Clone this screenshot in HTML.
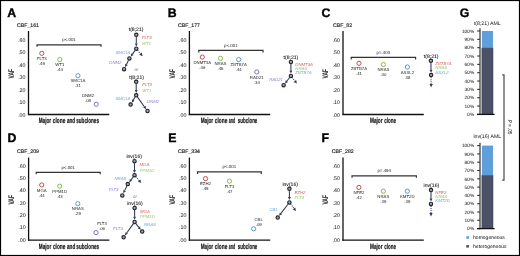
<!DOCTYPE html>
<html><head><meta charset="utf-8"><style>
html,body{margin:0;padding:0;background:#fff;}
svg{display:block;will-change:transform;filter:blur(0.3px);}
text{font-family:"Liberation Sans",sans-serif;text-rendering:geometricPrecision;}
</style></head><body>
<svg width="520" height="256" viewBox="0 0 520 256">
<rect x="0" y="0" width="520" height="256" fill="#fff"/>
<text x="7.3" y="16.8" font-size="12.3" fill="#000" font-weight="bold" stroke="#000" stroke-width="0.35">A</text>
<text x="17" y="27" font-size="5.2" fill="#222" stroke="#222" stroke-width="0.15">CBF_161</text>
<line x1="28.5" y1="31" x2="28.5" y2="115.1" stroke="#111" stroke-width="1.3"/>
<line x1="27.9" y1="114.5" x2="109.3" y2="114.5" stroke="#111" stroke-width="1.3"/>
<text x="25.5" y="116.6" font-size="5.3" fill="#222" stroke="#222" stroke-width="0.03" text-anchor="end">.00</text>
<text x="25.5" y="104.12" font-size="5.3" fill="#222" stroke="#222" stroke-width="0.03" text-anchor="end">.10</text>
<text x="25.5" y="91.63" font-size="5.3" fill="#222" stroke="#222" stroke-width="0.03" text-anchor="end">.20</text>
<text x="25.5" y="79.15" font-size="5.3" fill="#222" stroke="#222" stroke-width="0.03" text-anchor="end">.30</text>
<text x="25.5" y="66.67" font-size="5.3" fill="#222" stroke="#222" stroke-width="0.03" text-anchor="end">.40</text>
<text x="25.5" y="54.18" font-size="5.3" fill="#222" stroke="#222" stroke-width="0.03" text-anchor="end">.50</text>
<text x="25.5" y="41.7" font-size="5.3" fill="#222" stroke="#222" stroke-width="0.03" text-anchor="end">.60</text>
<text x="0" y="0" font-size="8.2" font-weight="bold" fill="#222" text-anchor="middle" textLength="9.6" lengthAdjust="spacingAndGlyphs" transform="translate(13.8,73.75) rotate(-90)">VAF</text>
<text x="38.65" y="123.1" font-size="7.5" fill="#1a1a1a" stroke="#1a1a1a" stroke-width="0.24" font-weight="bold" textLength="12.5" lengthAdjust="spacingAndGlyphs">Major</text>
<text x="52.85" y="123.1" font-size="7.5" fill="#1a1a1a" stroke="#1a1a1a" stroke-width="0.24" font-weight="bold" textLength="12.5" lengthAdjust="spacingAndGlyphs">clone</text>
<text x="66.95" y="123.1" font-size="7.5" fill="#1a1a1a" stroke="#1a1a1a" stroke-width="0.24" font-weight="bold" textLength="8.2" lengthAdjust="spacingAndGlyphs">and</text>
<text x="76.25" y="123.1" font-size="7.5" fill="#1a1a1a" stroke="#1a1a1a" stroke-width="0.24" font-weight="bold" textLength="22.7" lengthAdjust="spacingAndGlyphs">subclones</text>
<path d="M37,46.8 L37,44.8 L101,44.8 L101,46.8" stroke="#333" stroke-width="1.2" fill="none"/>
<text x="69.0" y="41.199999999999996" font-size="4.4" fill="#333" stroke="#333" stroke-width="0.03" text-anchor="middle">p&lt;.001</text>
<circle cx="41.8" cy="53.34" r="2.1" fill="none" stroke="#c0504d" stroke-width="1.0"/>
<text x="41.8" y="59.94" font-size="4.3" fill="#333" stroke="#333" stroke-width="0.03" text-anchor="middle">FLT3</text>
<text x="41.8" y="64.94" font-size="4.3" fill="#333" stroke="#333" stroke-width="0.03" text-anchor="middle">.49</text>
<circle cx="59.8" cy="59.55" r="2.1" fill="none" stroke="#86bd4a" stroke-width="1.0"/>
<text x="59.8" y="66.15" font-size="4.3" fill="#333" stroke="#333" stroke-width="0.03" text-anchor="middle">WT1</text>
<text x="59.8" y="71.15" font-size="4.3" fill="#333" stroke="#333" stroke-width="0.03" text-anchor="middle">.44</text>
<circle cx="77.9" cy="75.70" r="2.1" fill="none" stroke="#539ae0" stroke-width="1.0"/>
<text x="77.9" y="82.3" font-size="4.3" fill="#333" stroke="#333" stroke-width="0.03" text-anchor="middle">SMC1A</text>
<text x="77.9" y="87.3" font-size="4.3" fill="#333" stroke="#333" stroke-width="0.03" text-anchor="middle">.31</text>
<circle cx="96.2" cy="104.26" r="2.1" fill="none" stroke="#7a72c8" stroke-width="1.0"/>
<text x="88" y="97.1" font-size="4.3" fill="#333" stroke="#333" stroke-width="0.03" text-anchor="middle">DNM2</text>
<text x="88" y="102.2" font-size="4.3" fill="#333" stroke="#333" stroke-width="0.03" text-anchor="middle">.08</text>
<text x="167.8" y="16.8" font-size="12.3" fill="#000" font-weight="bold" stroke="#000" stroke-width="0.35">B</text>
<text x="178" y="27" font-size="5.2" fill="#222" stroke="#222" stroke-width="0.15">CBF_177</text>
<line x1="189.4" y1="31" x2="189.4" y2="115.1" stroke="#111" stroke-width="1.3"/>
<line x1="188.8" y1="114.5" x2="270.2" y2="114.5" stroke="#111" stroke-width="1.3"/>
<text x="186.4" y="116.6" font-size="5.3" fill="#222" stroke="#222" stroke-width="0.03" text-anchor="end">.00</text>
<text x="186.4" y="104.12" font-size="5.3" fill="#222" stroke="#222" stroke-width="0.03" text-anchor="end">.10</text>
<text x="186.4" y="91.63" font-size="5.3" fill="#222" stroke="#222" stroke-width="0.03" text-anchor="end">.20</text>
<text x="186.4" y="79.15" font-size="5.3" fill="#222" stroke="#222" stroke-width="0.03" text-anchor="end">.30</text>
<text x="186.4" y="66.67" font-size="5.3" fill="#222" stroke="#222" stroke-width="0.03" text-anchor="end">.40</text>
<text x="186.4" y="54.18" font-size="5.3" fill="#222" stroke="#222" stroke-width="0.03" text-anchor="end">.50</text>
<text x="186.4" y="41.7" font-size="5.3" fill="#222" stroke="#222" stroke-width="0.03" text-anchor="end">.60</text>
<text x="0" y="0" font-size="8.2" font-weight="bold" fill="#222" text-anchor="middle" textLength="9.6" lengthAdjust="spacingAndGlyphs" transform="translate(174.70000000000002,73.75) rotate(-90)">VAF</text>
<text x="200.65" y="123.1" font-size="7.5" fill="#1a1a1a" stroke="#1a1a1a" stroke-width="0.24" font-weight="bold" textLength="12.5" lengthAdjust="spacingAndGlyphs">Major</text>
<text x="214.85" y="123.1" font-size="7.5" fill="#1a1a1a" stroke="#1a1a1a" stroke-width="0.24" font-weight="bold" textLength="12.5" lengthAdjust="spacingAndGlyphs">clone</text>
<text x="228.75" y="123.1" font-size="7.5" fill="#1a1a1a" stroke="#1a1a1a" stroke-width="0.24" font-weight="bold" textLength="6.4" lengthAdjust="spacingAndGlyphs">and</text>
<text x="237.85" y="123.1" font-size="7.5" fill="#1a1a1a" stroke="#1a1a1a" stroke-width="0.24" font-weight="bold" textLength="19.5" lengthAdjust="spacingAndGlyphs">subclone</text>
<path d="M198.8,52.4 L198.8,50.4 L263,50.4 L263,52.4" stroke="#333" stroke-width="1.2" fill="none"/>
<text x="230.9" y="46.8" font-size="4.4" fill="#333" stroke="#333" stroke-width="0.03" text-anchor="middle">p&lt;.001</text>
<circle cx="202.3" cy="57.07" r="2.1" fill="none" stroke="#c0504d" stroke-width="1.0"/>
<text x="202.3" y="63.67" font-size="4.3" fill="#333" stroke="#333" stroke-width="0.03" text-anchor="middle">DNMT3A</text>
<text x="202.3" y="68.67" font-size="4.3" fill="#333" stroke="#333" stroke-width="0.03" text-anchor="middle">.46</text>
<circle cx="220.5" cy="58.31" r="2.1" fill="none" stroke="#86bd4a" stroke-width="1.0"/>
<text x="220.5" y="64.91" font-size="4.3" fill="#333" stroke="#333" stroke-width="0.03" text-anchor="middle">NRAS</text>
<text x="220.5" y="69.91" font-size="4.3" fill="#333" stroke="#333" stroke-width="0.03" text-anchor="middle">.45</text>
<circle cx="238.7" cy="59.55" r="2.1" fill="none" stroke="#539ae0" stroke-width="1.0"/>
<text x="238.7" y="66.15" font-size="4.3" fill="#333" stroke="#333" stroke-width="0.03" text-anchor="middle">ZBTB7A</text>
<text x="238.7" y="71.15" font-size="4.3" fill="#333" stroke="#333" stroke-width="0.03" text-anchor="middle">.44</text>
<circle cx="256.8" cy="71.97" r="2.1" fill="none" stroke="#7a72c8" stroke-width="1.0"/>
<text x="256.8" y="78.57" font-size="4.3" fill="#333" stroke="#333" stroke-width="0.03" text-anchor="middle">RAD21</text>
<text x="256.8" y="83.57" font-size="4.3" fill="#333" stroke="#333" stroke-width="0.03" text-anchor="middle">.34</text>
<text x="321.4" y="16.8" font-size="12.3" fill="#000" font-weight="bold" stroke="#000" stroke-width="0.35">C</text>
<text x="333" y="27" font-size="5.2" fill="#222" stroke="#222" stroke-width="0.15">CBF_82</text>
<line x1="343" y1="31" x2="343" y2="115.1" stroke="#111" stroke-width="1.3"/>
<line x1="342.4" y1="114.5" x2="423.8" y2="114.5" stroke="#111" stroke-width="1.3"/>
<text x="340" y="116.6" font-size="5.3" fill="#222" stroke="#222" stroke-width="0.03" text-anchor="end">.00</text>
<text x="340" y="104.12" font-size="5.3" fill="#222" stroke="#222" stroke-width="0.03" text-anchor="end">.10</text>
<text x="340" y="91.63" font-size="5.3" fill="#222" stroke="#222" stroke-width="0.03" text-anchor="end">.20</text>
<text x="340" y="79.15" font-size="5.3" fill="#222" stroke="#222" stroke-width="0.03" text-anchor="end">.30</text>
<text x="340" y="66.67" font-size="5.3" fill="#222" stroke="#222" stroke-width="0.03" text-anchor="end">.40</text>
<text x="340" y="54.18" font-size="5.3" fill="#222" stroke="#222" stroke-width="0.03" text-anchor="end">.50</text>
<text x="340" y="41.7" font-size="5.3" fill="#222" stroke="#222" stroke-width="0.03" text-anchor="end">.60</text>
<text x="0" y="0" font-size="8.2" font-weight="bold" fill="#222" text-anchor="middle" textLength="9.6" lengthAdjust="spacingAndGlyphs" transform="translate(328.3,73.75) rotate(-90)">VAF</text>
<text x="369.95" y="123.1" font-size="7.5" fill="#1a1a1a" stroke="#1a1a1a" stroke-width="0.24" font-weight="bold" textLength="12.6" lengthAdjust="spacingAndGlyphs">Major</text>
<text x="384.35" y="123.1" font-size="7.5" fill="#1a1a1a" stroke="#1a1a1a" stroke-width="0.24" font-weight="bold" textLength="11.7" lengthAdjust="spacingAndGlyphs">clone</text>
<path d="M351.2,59.4 L351.2,57.4 L415.6,57.4 L415.6,59.4" stroke="#333" stroke-width="1.2" fill="none"/>
<text x="383.4" y="53.8" font-size="4.4" fill="#333" stroke="#333" stroke-width="0.03" text-anchor="middle">p=.403</text>
<circle cx="359" cy="63.28" r="2.1" fill="none" stroke="#c0504d" stroke-width="1.0"/>
<text x="359" y="69.88" font-size="4.3" fill="#333" stroke="#333" stroke-width="0.03" text-anchor="middle">ZBTB7A</text>
<text x="359" y="74.88" font-size="4.3" fill="#333" stroke="#333" stroke-width="0.03" text-anchor="middle">.41</text>
<circle cx="383.4" cy="64.52" r="2.1" fill="none" stroke="#86bd4a" stroke-width="1.0"/>
<text x="383.4" y="71.12" font-size="4.3" fill="#333" stroke="#333" stroke-width="0.03" text-anchor="middle">NRAS</text>
<text x="383.4" y="76.12" font-size="4.3" fill="#333" stroke="#333" stroke-width="0.03" text-anchor="middle">.40</text>
<circle cx="407.4" cy="67.00" r="2.1" fill="none" stroke="#539ae0" stroke-width="1.0"/>
<text x="407.4" y="73.6" font-size="4.3" fill="#333" stroke="#333" stroke-width="0.03" text-anchor="middle">ASXL2</text>
<text x="407.4" y="78.6" font-size="4.3" fill="#333" stroke="#333" stroke-width="0.03" text-anchor="middle">.38</text>
<text x="7.5" y="142.2" font-size="12.3" fill="#000" font-weight="bold" stroke="#000" stroke-width="0.35">D</text>
<text x="17" y="153" font-size="5.2" fill="#222" stroke="#222" stroke-width="0.15">CBF_209</text>
<line x1="28.6" y1="157.5" x2="28.6" y2="240.7" stroke="#111" stroke-width="1.3"/>
<line x1="28.0" y1="240.1" x2="109.4" y2="240.1" stroke="#111" stroke-width="1.3"/>
<text x="25.6" y="241.8" font-size="5.3" fill="#222" stroke="#222" stroke-width="0.03" text-anchor="end">.00</text>
<text x="25.6" y="229.47" font-size="5.3" fill="#222" stroke="#222" stroke-width="0.03" text-anchor="end">.10</text>
<text x="25.6" y="217.13" font-size="5.3" fill="#222" stroke="#222" stroke-width="0.03" text-anchor="end">.20</text>
<text x="25.6" y="204.8" font-size="5.3" fill="#222" stroke="#222" stroke-width="0.03" text-anchor="end">.30</text>
<text x="25.6" y="192.47" font-size="5.3" fill="#222" stroke="#222" stroke-width="0.03" text-anchor="end">.40</text>
<text x="25.6" y="180.13" font-size="5.3" fill="#222" stroke="#222" stroke-width="0.03" text-anchor="end">.50</text>
<text x="25.6" y="167.8" font-size="5.3" fill="#222" stroke="#222" stroke-width="0.03" text-anchor="end">.60</text>
<text x="0" y="0" font-size="8.2" font-weight="bold" fill="#222" text-anchor="middle" textLength="9.6" lengthAdjust="spacingAndGlyphs" transform="translate(13.900000000000002,199.8) rotate(-90)">VAF</text>
<text x="38.75" y="248.7" font-size="7.5" fill="#1a1a1a" stroke="#1a1a1a" stroke-width="0.24" font-weight="bold" textLength="12.5" lengthAdjust="spacingAndGlyphs">Major</text>
<text x="52.95" y="248.7" font-size="7.5" fill="#1a1a1a" stroke="#1a1a1a" stroke-width="0.24" font-weight="bold" textLength="12.5" lengthAdjust="spacingAndGlyphs">clone</text>
<text x="67.05" y="248.7" font-size="7.5" fill="#1a1a1a" stroke="#1a1a1a" stroke-width="0.24" font-weight="bold" textLength="8.2" lengthAdjust="spacingAndGlyphs">and</text>
<text x="76.35" y="248.7" font-size="7.5" fill="#1a1a1a" stroke="#1a1a1a" stroke-width="0.24" font-weight="bold" textLength="22.7" lengthAdjust="spacingAndGlyphs">subclones</text>
<path d="M36.2,174.3 L36.2,172.3 L100.2,172.3 L100.2,174.3" stroke="#333" stroke-width="1.2" fill="none"/>
<text x="68.2" y="168.70000000000002" font-size="4.4" fill="#333" stroke="#333" stroke-width="0.03" text-anchor="middle">p&lt;.001</text>
<circle cx="41.7" cy="184.92" r="2.1" fill="none" stroke="#c0504d" stroke-width="1.0"/>
<text x="41.7" y="191.52" font-size="4.3" fill="#333" stroke="#333" stroke-width="0.03" text-anchor="middle">MGA</text>
<text x="41.7" y="196.52" font-size="4.3" fill="#333" stroke="#333" stroke-width="0.03" text-anchor="middle">.44</text>
<circle cx="59.7" cy="186.18" r="2.1" fill="none" stroke="#86bd4a" stroke-width="1.0"/>
<text x="59.7" y="192.78" font-size="4.3" fill="#333" stroke="#333" stroke-width="0.03" text-anchor="middle">PPM1D</text>
<text x="59.7" y="197.78" font-size="4.3" fill="#333" stroke="#333" stroke-width="0.03" text-anchor="middle">.43</text>
<circle cx="77.8" cy="203.73" r="2.1" fill="none" stroke="#539ae0" stroke-width="1.0"/>
<text x="77.8" y="210.33" font-size="4.3" fill="#333" stroke="#333" stroke-width="0.03" text-anchor="middle">NRAS</text>
<text x="77.8" y="215.33" font-size="4.3" fill="#333" stroke="#333" stroke-width="0.03" text-anchor="middle">.29</text>
<circle cx="96.0" cy="232.58" r="2.1" fill="none" stroke="#7a72c8" stroke-width="1.0"/>
<text x="102" y="225" font-size="4.3" fill="#333" stroke="#333" stroke-width="0.03" text-anchor="middle">FLT3</text>
<text x="102" y="230.2" font-size="4.3" fill="#333" stroke="#333" stroke-width="0.03" text-anchor="middle">.06</text>
<text x="168.2" y="142.2" font-size="12.3" fill="#000" font-weight="bold" stroke="#000" stroke-width="0.35">E</text>
<text x="178" y="153" font-size="5.2" fill="#222" stroke="#222" stroke-width="0.15">CBF_334</text>
<line x1="189.4" y1="157.5" x2="189.4" y2="240.7" stroke="#111" stroke-width="1.3"/>
<line x1="188.8" y1="240.1" x2="270.2" y2="240.1" stroke="#111" stroke-width="1.3"/>
<text x="186.4" y="241.8" font-size="5.3" fill="#222" stroke="#222" stroke-width="0.03" text-anchor="end">.00</text>
<text x="186.4" y="229.47" font-size="5.3" fill="#222" stroke="#222" stroke-width="0.03" text-anchor="end">.10</text>
<text x="186.4" y="217.13" font-size="5.3" fill="#222" stroke="#222" stroke-width="0.03" text-anchor="end">.20</text>
<text x="186.4" y="204.8" font-size="5.3" fill="#222" stroke="#222" stroke-width="0.03" text-anchor="end">.30</text>
<text x="186.4" y="192.47" font-size="5.3" fill="#222" stroke="#222" stroke-width="0.03" text-anchor="end">.40</text>
<text x="186.4" y="180.13" font-size="5.3" fill="#222" stroke="#222" stroke-width="0.03" text-anchor="end">.50</text>
<text x="186.4" y="167.8" font-size="5.3" fill="#222" stroke="#222" stroke-width="0.03" text-anchor="end">.60</text>
<text x="0" y="0" font-size="8.2" font-weight="bold" fill="#222" text-anchor="middle" textLength="9.6" lengthAdjust="spacingAndGlyphs" transform="translate(174.70000000000002,199.8) rotate(-90)">VAF</text>
<text x="200.65" y="248.7" font-size="7.5" fill="#1a1a1a" stroke="#1a1a1a" stroke-width="0.24" font-weight="bold" textLength="12.5" lengthAdjust="spacingAndGlyphs">Major</text>
<text x="214.85" y="248.7" font-size="7.5" fill="#1a1a1a" stroke="#1a1a1a" stroke-width="0.24" font-weight="bold" textLength="12.5" lengthAdjust="spacingAndGlyphs">clone</text>
<text x="228.75" y="248.7" font-size="7.5" fill="#1a1a1a" stroke="#1a1a1a" stroke-width="0.24" font-weight="bold" textLength="6.4" lengthAdjust="spacingAndGlyphs">and</text>
<text x="237.85" y="248.7" font-size="7.5" fill="#1a1a1a" stroke="#1a1a1a" stroke-width="0.24" font-weight="bold" textLength="19.5" lengthAdjust="spacingAndGlyphs">subclone</text>
<path d="M197.5,173.9 L197.5,171.9 L261.3,171.9 L261.3,173.9" stroke="#333" stroke-width="1.2" fill="none"/>
<text x="229.4" y="168.3" font-size="4.4" fill="#333" stroke="#333" stroke-width="0.03" text-anchor="middle">p&lt;.001</text>
<circle cx="205.5" cy="178.65" r="2.1" fill="none" stroke="#c0504d" stroke-width="1.0"/>
<text x="205.5" y="185.25" font-size="4.3" fill="#333" stroke="#333" stroke-width="0.03" text-anchor="middle">EZH2</text>
<text x="205.5" y="190.25" font-size="4.3" fill="#333" stroke="#333" stroke-width="0.03" text-anchor="middle">.49</text>
<circle cx="229.5" cy="181.16" r="2.1" fill="none" stroke="#86bd4a" stroke-width="1.0"/>
<text x="229.5" y="187.76" font-size="4.3" fill="#333" stroke="#333" stroke-width="0.03" text-anchor="middle">FLT3</text>
<text x="229.5" y="192.76" font-size="4.3" fill="#333" stroke="#333" stroke-width="0.03" text-anchor="middle">.47</text>
<circle cx="253.7" cy="228.81" r="2.1" fill="none" stroke="#539ae0" stroke-width="1.0"/>
<text x="258.7" y="221" font-size="4.3" fill="#333" stroke="#333" stroke-width="0.03" text-anchor="middle">CBL</text>
<text x="258.7" y="225.8" font-size="4.3" fill="#333" stroke="#333" stroke-width="0.03" text-anchor="middle">.09</text>
<text x="321.5" y="142.2" font-size="12.3" fill="#000" font-weight="bold" stroke="#000" stroke-width="0.35">F</text>
<text x="331.8" y="153" font-size="5.2" fill="#222" stroke="#222" stroke-width="0.15">CBF_282</text>
<line x1="343" y1="157.5" x2="343" y2="240.7" stroke="#111" stroke-width="1.3"/>
<line x1="342.4" y1="240.1" x2="423.8" y2="240.1" stroke="#111" stroke-width="1.3"/>
<text x="340" y="241.8" font-size="5.3" fill="#222" stroke="#222" stroke-width="0.03" text-anchor="end">.00</text>
<text x="340" y="229.47" font-size="5.3" fill="#222" stroke="#222" stroke-width="0.03" text-anchor="end">.10</text>
<text x="340" y="217.13" font-size="5.3" fill="#222" stroke="#222" stroke-width="0.03" text-anchor="end">.20</text>
<text x="340" y="204.8" font-size="5.3" fill="#222" stroke="#222" stroke-width="0.03" text-anchor="end">.30</text>
<text x="340" y="192.47" font-size="5.3" fill="#222" stroke="#222" stroke-width="0.03" text-anchor="end">.40</text>
<text x="340" y="180.13" font-size="5.3" fill="#222" stroke="#222" stroke-width="0.03" text-anchor="end">.50</text>
<text x="340" y="167.8" font-size="5.3" fill="#222" stroke="#222" stroke-width="0.03" text-anchor="end">.60</text>
<text x="0" y="0" font-size="8.2" font-weight="bold" fill="#222" text-anchor="middle" textLength="9.6" lengthAdjust="spacingAndGlyphs" transform="translate(328.3,199.8) rotate(-90)">VAF</text>
<text x="369.95" y="248.7" font-size="7.5" fill="#1a1a1a" stroke="#1a1a1a" stroke-width="0.24" font-weight="bold" textLength="12.6" lengthAdjust="spacingAndGlyphs">Major</text>
<text x="384.35" y="248.7" font-size="7.5" fill="#1a1a1a" stroke="#1a1a1a" stroke-width="0.24" font-weight="bold" textLength="11.7" lengthAdjust="spacingAndGlyphs">clone</text>
<path d="M352,177.8 L352,175.8 L416.4,175.8 L416.4,177.8" stroke="#333" stroke-width="1.2" fill="none"/>
<text x="384.2" y="172.20000000000002" font-size="4.4" fill="#333" stroke="#333" stroke-width="0.03" text-anchor="middle">p=.494</text>
<circle cx="358.9" cy="187.43" r="2.1" fill="none" stroke="#c0504d" stroke-width="1.0"/>
<text x="358.9" y="194.03" font-size="4.3" fill="#333" stroke="#333" stroke-width="0.03" text-anchor="middle">NFE2</text>
<text x="358.9" y="199.03" font-size="4.3" fill="#333" stroke="#333" stroke-width="0.03" text-anchor="middle">.42</text>
<circle cx="383.3" cy="191.19" r="2.1" fill="none" stroke="#86bd4a" stroke-width="1.0"/>
<text x="383.3" y="197.79" font-size="4.3" fill="#333" stroke="#333" stroke-width="0.03" text-anchor="middle">NRAS</text>
<text x="383.3" y="202.79" font-size="4.3" fill="#333" stroke="#333" stroke-width="0.03" text-anchor="middle">.39</text>
<circle cx="407.3" cy="191.19" r="2.1" fill="none" stroke="#539ae0" stroke-width="1.0"/>
<text x="407.3" y="197.79" font-size="4.3" fill="#333" stroke="#333" stroke-width="0.03" text-anchor="middle">KMT2D</text>
<text x="407.3" y="202.79" font-size="4.3" fill="#333" stroke="#333" stroke-width="0.03" text-anchor="middle">.39</text>
<text x="136.1" y="31.2" font-size="5.1" fill="#111" stroke="#111" stroke-width="0.07" text-anchor="middle">t(8;21)</text>
<circle cx="136.3" cy="34.8" r="1.7" fill="#a4a7b0" stroke="#202028" stroke-width="1.1"/>
<circle cx="136.3" cy="48.7" r="1.7" fill="#a4a7b0" stroke="#202028" stroke-width="1.1"/>
<circle cx="129.4" cy="58.4" r="1.7" fill="#a4a7b0" stroke="#202028" stroke-width="1.1"/>
<circle cx="124.1" cy="69.2" r="1.7" fill="#a4a7b0" stroke="#202028" stroke-width="1.1"/>
<line x1="136.30" y1="36.80" x2="136.30" y2="43.40" stroke="#2f3a58" stroke-width="1.05"/>
<path d="M136.30,46.40 L134.85,43.40 L137.75,43.40 Z" fill="#2f3a58"/>
<line x1="135.14" y1="50.33" x2="132.47" y2="54.08" stroke="#2f3a58" stroke-width="1.05"/>
<path d="M130.73,56.53 L131.29,53.24 L133.65,54.92 Z" fill="#2f3a58"/>
<line x1="128.52" y1="60.20" x2="126.43" y2="64.44" stroke="#2f3a58" stroke-width="1.05"/>
<path d="M125.11,67.14 L125.13,63.80 L127.74,65.08 Z" fill="#2f3a58"/>
<line x1="137.59" y1="50.23" x2="140.48" y2="53.67" stroke="#2f3a58" stroke-width="1.05" stroke-dasharray="1,1.05"/>
<path d="M142.60,56.20 L139.21,54.73 L141.74,52.61 Z" fill="#2f3a58"/>
<text x="141.9" y="39.3" font-size="4.3" fill="#d26460" font-style="italic">FLT3</text>
<text x="141.9" y="45.1" font-size="4.3" fill="#9bc766" font-style="italic">WT1</text>
<text x="130.3" y="53.7" font-size="4.3" fill="#66a5ea" text-anchor="end" font-style="italic">SMC1A</text>
<text x="121.5" y="64.1" font-size="4.3" fill="#8c84cf" text-anchor="end" font-style="italic">DNM2</text>
<text x="134.4" y="71.2" font-size="4.5" fill="#737b94" font-style="italic">or</text>
<text x="136.6" y="78.9" font-size="5.1" fill="#111" stroke="#111" stroke-width="0.07" text-anchor="middle">t(8;21)</text>
<circle cx="136.2" cy="81.8" r="1.7" fill="#a4a7b0" stroke="#202028" stroke-width="1.1"/>
<circle cx="136.2" cy="95.3" r="1.7" fill="#a4a7b0" stroke="#202028" stroke-width="1.1"/>
<circle cx="130.6" cy="104.6" r="1.7" fill="#a4a7b0" stroke="#202028" stroke-width="1.1"/>
<circle cx="147.5" cy="111" r="1.7" fill="#a4a7b0" stroke="#202028" stroke-width="1.1"/>
<line x1="136.20" y1="83.80" x2="136.20" y2="90.00" stroke="#2f3a58" stroke-width="1.05"/>
<path d="M136.20,93.00 L134.75,90.00 L137.65,90.00 Z" fill="#2f3a58"/>
<line x1="135.17" y1="97.01" x2="133.33" y2="100.06" stroke="#2f3a58" stroke-width="1.05"/>
<path d="M131.79,102.63 L132.09,99.31 L134.58,100.81 Z" fill="#2f3a58"/>
<line x1="137.37" y1="96.92" x2="144.40" y2="106.70" stroke="#2f3a58" stroke-width="1.05"/>
<path d="M146.16,109.13 L143.23,107.55 L145.58,105.85 Z" fill="#2f3a58"/>
<text x="142.3" y="85.9" font-size="4.3" fill="#d26460" font-style="italic">FLT3</text>
<text x="142.3" y="91.5" font-size="4.3" fill="#9bc766" font-style="italic">WT1</text>
<text x="130.3" y="100.2" font-size="4.3" fill="#66a5ea" text-anchor="end" font-style="italic">SMC1A</text>
<text x="147" y="103.2" font-size="4.3" fill="#8c84cf" font-style="italic">DNM2</text>
<text x="290.9" y="58.8" font-size="5.1" fill="#111" stroke="#111" stroke-width="0.07" text-anchor="middle">t(8;21)</text>
<circle cx="290.9" cy="62" r="1.7" fill="#a4a7b0" stroke="#202028" stroke-width="1.1"/>
<circle cx="290.9" cy="75.9" r="1.7" fill="#a4a7b0" stroke="#202028" stroke-width="1.1"/>
<circle cx="283.6" cy="85.2" r="1.7" fill="#a4a7b0" stroke="#202028" stroke-width="1.1"/>
<line x1="290.90" y1="64.00" x2="290.90" y2="70.60" stroke="#2f3a58" stroke-width="1.05"/>
<path d="M290.90,73.60 L289.45,70.60 L292.35,70.60 Z" fill="#2f3a58"/>
<line x1="289.67" y1="77.47" x2="286.87" y2="81.03" stroke="#2f3a58" stroke-width="1.05"/>
<path d="M285.02,83.39 L285.73,80.14 L288.01,81.93 Z" fill="#2f3a58"/>
<line x1="292.13" y1="77.48" x2="294.87" y2="81.00" stroke="#2f3a58" stroke-width="1.05" stroke-dasharray="1,1.05"/>
<path d="M296.90,83.60 L293.57,82.01 L296.17,79.98 Z" fill="#2f3a58"/>
<text x="295.3" y="66.1" font-size="4.3" fill="#d26460" font-style="italic">DNMT3A</text>
<text x="295.3" y="70.0" font-size="4.3" fill="#9bc766" font-style="italic">NRAS</text>
<text x="295.3" y="74.3" font-size="4.3" fill="#66a5ea" font-style="italic">ZBTB7A</text>
<text x="283" y="80.8" font-size="4.3" fill="#8c84cf" text-anchor="end" font-style="italic">RAD21</text>
<text x="431.2" y="57.6" font-size="5.1" fill="#111" stroke="#111" stroke-width="0.07" text-anchor="middle">t(8;21)</text>
<circle cx="430.9" cy="60.8" r="1.7" fill="#a4a7b0" stroke="#202028" stroke-width="1.1"/>
<circle cx="431.1" cy="75.1" r="1.7" fill="#a4a7b0" stroke="#202028" stroke-width="1.1"/>
<line x1="430.93" y1="62.80" x2="431.03" y2="69.80" stroke="#2f3a58" stroke-width="1.05"/>
<path d="M431.07,72.80 L429.58,69.82 L432.48,69.78 Z" fill="#2f3a58"/>
<line x1="431.10" y1="77.10" x2="431.10" y2="84.00" stroke="#2f3a58" stroke-width="1.05" stroke-dasharray="1,1.05"/>
<path d="M431.10,87.30 L429.45,84.00 L432.75,84.00 Z" fill="#2f3a58"/>
<text x="435.3" y="64.8" font-size="4.3" fill="#d26460" font-style="italic">ZBTB7A</text>
<text x="435.3" y="69.2" font-size="4.3" fill="#9bc766" font-style="italic">NRAS</text>
<text x="435.3" y="73.7" font-size="4.3" fill="#66a5ea" font-style="italic">ASXL2</text>
<text x="134.2" y="158.1" font-size="5.1" fill="#111" stroke="#111" stroke-width="0.07" text-anchor="middle">inv(16)</text>
<circle cx="134.5" cy="161.2" r="1.7" fill="#a4a7b0" stroke="#202028" stroke-width="1.1"/>
<circle cx="134.5" cy="175.2" r="1.7" fill="#a4a7b0" stroke="#202028" stroke-width="1.1"/>
<circle cx="127.8" cy="184.1" r="1.7" fill="#a4a7b0" stroke="#202028" stroke-width="1.1"/>
<circle cx="122.3" cy="195.4" r="1.7" fill="#a4a7b0" stroke="#202028" stroke-width="1.1"/>
<line x1="134.50" y1="163.20" x2="134.50" y2="169.90" stroke="#2f3a58" stroke-width="1.05"/>
<path d="M134.50,172.90 L133.05,169.90 L135.95,169.90 Z" fill="#2f3a58"/>
<line x1="133.30" y1="176.80" x2="130.99" y2="179.87" stroke="#2f3a58" stroke-width="1.05"/>
<path d="M129.18,182.26 L129.83,178.99 L132.15,180.74 Z" fill="#2f3a58"/>
<line x1="126.92" y1="185.90" x2="124.62" y2="190.63" stroke="#2f3a58" stroke-width="1.05"/>
<path d="M123.31,193.33 L123.32,190.00 L125.92,191.27 Z" fill="#2f3a58"/>
<line x1="135.81" y1="176.71" x2="139.13" y2="180.51" stroke="#2f3a58" stroke-width="1.05" stroke-dasharray="1,1.05"/>
<path d="M141.30,183.00 L137.89,181.60 L140.38,179.43 Z" fill="#2f3a58"/>
<text x="139.5" y="165.8" font-size="4.3" fill="#d26460" font-style="italic">MGA</text>
<text x="139.5" y="171.6" font-size="4.3" fill="#9bc766" font-style="italic">PPM1D</text>
<text x="126.4" y="179.9" font-size="4.3" fill="#66a5ea" text-anchor="end" font-style="italic">NRAS</text>
<text x="118.5" y="190.9" font-size="4.3" fill="#8c84cf" text-anchor="end" font-style="italic">FLT3</text>
<text x="132.9" y="197.8" font-size="4.5" fill="#737b94" font-style="italic">or</text>
<text x="135" y="205.3" font-size="5.1" fill="#111" stroke="#111" stroke-width="0.07" text-anchor="middle">inv(16)</text>
<circle cx="134.6" cy="208" r="1.7" fill="#a4a7b0" stroke="#202028" stroke-width="1.1"/>
<circle cx="134.6" cy="222" r="1.7" fill="#a4a7b0" stroke="#202028" stroke-width="1.1"/>
<circle cx="123.6" cy="237.3" r="1.7" fill="#a4a7b0" stroke="#202028" stroke-width="1.1"/>
<circle cx="142.2" cy="231.6" r="1.7" fill="#a4a7b0" stroke="#202028" stroke-width="1.1"/>
<line x1="134.60" y1="210.00" x2="134.60" y2="216.70" stroke="#2f3a58" stroke-width="1.05"/>
<path d="M134.60,219.70 L133.15,216.70 L136.05,216.70 Z" fill="#2f3a58"/>
<line x1="133.43" y1="223.62" x2="126.69" y2="233.00" stroke="#2f3a58" stroke-width="1.05"/>
<path d="M124.94,235.43 L125.52,232.15 L127.87,233.84 Z" fill="#2f3a58"/>
<line x1="135.84" y1="223.57" x2="138.91" y2="227.44" stroke="#2f3a58" stroke-width="1.05"/>
<path d="M140.77,229.80 L137.77,228.34 L140.05,226.54 Z" fill="#2f3a58"/>
<text x="140" y="212.7" font-size="4.3" fill="#d26460" font-style="italic">MGA</text>
<text x="140" y="218.1" font-size="4.3" fill="#9bc766" font-style="italic">PPM1D</text>
<text x="122.8" y="230.3" font-size="4.3" fill="#8c84cf" text-anchor="end" font-style="italic">FLT3</text>
<text x="144" y="226.3" font-size="4.3" fill="#66a5ea" font-style="italic">NRAS</text>
<text x="290.2" y="185.7" font-size="5.1" fill="#111" stroke="#111" stroke-width="0.07" text-anchor="middle">inv(16)</text>
<circle cx="289.4" cy="188.8" r="1.7" fill="#a4a7b0" stroke="#202028" stroke-width="1.1"/>
<circle cx="289.4" cy="202.4" r="1.7" fill="#a4a7b0" stroke="#202028" stroke-width="1.1"/>
<circle cx="277.7" cy="217.6" r="1.7" fill="#a4a7b0" stroke="#202028" stroke-width="1.1"/>
<line x1="289.40" y1="190.80" x2="289.40" y2="197.10" stroke="#2f3a58" stroke-width="1.05"/>
<path d="M289.40,200.10 L287.95,197.10 L290.85,197.10 Z" fill="#2f3a58"/>
<line x1="288.18" y1="203.98" x2="280.93" y2="213.40" stroke="#2f3a58" stroke-width="1.05"/>
<path d="M279.10,215.78 L279.78,212.52 L282.08,214.28 Z" fill="#2f3a58"/>
<line x1="290.62" y1="203.99" x2="293.99" y2="208.38" stroke="#2f3a58" stroke-width="1.05" stroke-dasharray="1,1.05"/>
<path d="M296.00,211.00 L292.68,209.39 L295.30,207.38 Z" fill="#2f3a58"/>
<text x="294.4" y="193.7" font-size="4.3" fill="#d26460" font-style="italic">EZH2</text>
<text x="294.4" y="198.9" font-size="4.3" fill="#9bc766" font-style="italic">FLT3</text>
<text x="277.8" y="211.2" font-size="4.3" fill="#66a5ea" text-anchor="end" font-style="italic">CBL</text>
<text x="431.4" y="186.9" font-size="5.1" fill="#111" stroke="#111" stroke-width="0.07" text-anchor="middle">inv(16)</text>
<circle cx="431.0" cy="190.1" r="1.7" fill="#a4a7b0" stroke="#202028" stroke-width="1.1"/>
<circle cx="431.0" cy="203.9" r="1.7" fill="#a4a7b0" stroke="#202028" stroke-width="1.1"/>
<line x1="431.00" y1="192.10" x2="431.00" y2="198.60" stroke="#2f3a58" stroke-width="1.05"/>
<path d="M431.00,201.60 L429.55,198.60 L432.45,198.60 Z" fill="#2f3a58"/>
<line x1="431.00" y1="205.90" x2="431.00" y2="213.10" stroke="#2f3a58" stroke-width="1.05" stroke-dasharray="1,1.05"/>
<path d="M431.00,216.40 L429.35,213.10 L432.65,213.10 Z" fill="#2f3a58"/>
<text x="435.3" y="193.5" font-size="4.3" fill="#d26460" font-style="italic">NFE2</text>
<text x="435.3" y="198.2" font-size="4.3" fill="#9bc766" font-style="italic">NRAS</text>
<text x="435.3" y="202.4" font-size="4.3" fill="#66a5ea" font-style="italic">KMT2D</text>
<text x="459.8" y="16.8" font-size="12.3" fill="#000" font-weight="bold" stroke="#000" stroke-width="0.35">G</text>
<text x="487.3" y="24.5" font-size="5.2" fill="#222" stroke="#222" stroke-width="0.03" text-anchor="middle">t(8;21) AML</text>
<line x1="480" y1="28.2" x2="480" y2="115.0" stroke="#333" stroke-width="1.2"/>
<line x1="477.2" y1="114.4" x2="480" y2="114.4" stroke="#333" stroke-width="1.1"/>
<text x="474.2" y="116.10000000000001" font-size="4.8" fill="#222" stroke="#222" stroke-width="0.03" text-anchor="end">0%</text>
<line x1="477.2" y1="106.06" x2="480" y2="106.06" stroke="#333" stroke-width="1.1"/>
<text x="474.2" y="107.76" font-size="4.8" fill="#222" stroke="#222" stroke-width="0.03" text-anchor="end">10%</text>
<line x1="477.2" y1="97.72" x2="480" y2="97.72" stroke="#333" stroke-width="1.1"/>
<text x="474.2" y="99.42" font-size="4.8" fill="#222" stroke="#222" stroke-width="0.03" text-anchor="end">20%</text>
<line x1="477.2" y1="89.38000000000001" x2="480" y2="89.38000000000001" stroke="#333" stroke-width="1.1"/>
<text x="474.2" y="91.08000000000001" font-size="4.8" fill="#222" stroke="#222" stroke-width="0.03" text-anchor="end">30%</text>
<line x1="477.2" y1="81.04" x2="480" y2="81.04" stroke="#333" stroke-width="1.1"/>
<text x="474.2" y="82.74000000000001" font-size="4.8" fill="#222" stroke="#222" stroke-width="0.03" text-anchor="end">40%</text>
<line x1="477.2" y1="72.7" x2="480" y2="72.7" stroke="#333" stroke-width="1.1"/>
<text x="474.2" y="74.4" font-size="4.8" fill="#222" stroke="#222" stroke-width="0.03" text-anchor="end">50%</text>
<line x1="477.2" y1="64.36000000000001" x2="480" y2="64.36000000000001" stroke="#333" stroke-width="1.1"/>
<text x="474.2" y="66.06000000000002" font-size="4.8" fill="#222" stroke="#222" stroke-width="0.03" text-anchor="end">60%</text>
<line x1="477.2" y1="56.02000000000001" x2="480" y2="56.02000000000001" stroke="#333" stroke-width="1.1"/>
<text x="474.2" y="57.72000000000001" font-size="4.8" fill="#222" stroke="#222" stroke-width="0.03" text-anchor="end">70%</text>
<line x1="477.2" y1="47.68000000000001" x2="480" y2="47.68000000000001" stroke="#333" stroke-width="1.1"/>
<text x="474.2" y="49.38000000000001" font-size="4.8" fill="#222" stroke="#222" stroke-width="0.03" text-anchor="end">80%</text>
<line x1="477.2" y1="39.34" x2="480" y2="39.34" stroke="#333" stroke-width="1.1"/>
<text x="474.2" y="41.040000000000006" font-size="4.8" fill="#222" stroke="#222" stroke-width="0.03" text-anchor="end">90%</text>
<line x1="477.2" y1="31.0" x2="480" y2="31.0" stroke="#333" stroke-width="1.1"/>
<text x="474.2" y="32.7" font-size="4.8" fill="#222" stroke="#222" stroke-width="0.03" text-anchor="end">100%</text>
<rect x="481.9" y="31" width="11.1" height="17.10" fill="#5fa0dc"/>
<rect x="481.9" y="48.10" width="11.1" height="66.30" fill="#4b5166" stroke="#3a3f50" stroke-width="0.5"/>
<line x1="477" y1="114.4" x2="494.6" y2="114.4" stroke="#111" stroke-width="1.3"/>
<text x="487.3" y="138.2" font-size="5.2" fill="#222" stroke="#222" stroke-width="0.03" text-anchor="middle">inv(16) AML</text>
<line x1="480" y1="142.79999999999998" x2="480" y2="229.2" stroke="#333" stroke-width="1.2"/>
<line x1="477.2" y1="228.6" x2="480" y2="228.6" stroke="#333" stroke-width="1.1"/>
<text x="474.2" y="230.29999999999998" font-size="4.8" fill="#222" stroke="#222" stroke-width="0.03" text-anchor="end">0%</text>
<line x1="477.2" y1="220.29999999999998" x2="480" y2="220.29999999999998" stroke="#333" stroke-width="1.1"/>
<text x="474.2" y="221.99999999999997" font-size="4.8" fill="#222" stroke="#222" stroke-width="0.03" text-anchor="end">10%</text>
<line x1="477.2" y1="212.0" x2="480" y2="212.0" stroke="#333" stroke-width="1.1"/>
<text x="474.2" y="213.7" font-size="4.8" fill="#222" stroke="#222" stroke-width="0.03" text-anchor="end">20%</text>
<line x1="477.2" y1="203.7" x2="480" y2="203.7" stroke="#333" stroke-width="1.1"/>
<text x="474.2" y="205.39999999999998" font-size="4.8" fill="#222" stroke="#222" stroke-width="0.03" text-anchor="end">30%</text>
<line x1="477.2" y1="195.39999999999998" x2="480" y2="195.39999999999998" stroke="#333" stroke-width="1.1"/>
<text x="474.2" y="197.09999999999997" font-size="4.8" fill="#222" stroke="#222" stroke-width="0.03" text-anchor="end">40%</text>
<line x1="477.2" y1="187.1" x2="480" y2="187.1" stroke="#333" stroke-width="1.1"/>
<text x="474.2" y="188.79999999999998" font-size="4.8" fill="#222" stroke="#222" stroke-width="0.03" text-anchor="end">50%</text>
<line x1="477.2" y1="178.79999999999998" x2="480" y2="178.79999999999998" stroke="#333" stroke-width="1.1"/>
<text x="474.2" y="180.49999999999997" font-size="4.8" fill="#222" stroke="#222" stroke-width="0.03" text-anchor="end">60%</text>
<line x1="477.2" y1="170.5" x2="480" y2="170.5" stroke="#333" stroke-width="1.1"/>
<text x="474.2" y="172.2" font-size="4.8" fill="#222" stroke="#222" stroke-width="0.03" text-anchor="end">70%</text>
<line x1="477.2" y1="162.2" x2="480" y2="162.2" stroke="#333" stroke-width="1.1"/>
<text x="474.2" y="163.89999999999998" font-size="4.8" fill="#222" stroke="#222" stroke-width="0.03" text-anchor="end">80%</text>
<line x1="477.2" y1="153.89999999999998" x2="480" y2="153.89999999999998" stroke="#333" stroke-width="1.1"/>
<text x="474.2" y="155.59999999999997" font-size="4.8" fill="#222" stroke="#222" stroke-width="0.03" text-anchor="end">90%</text>
<line x1="477.2" y1="145.6" x2="480" y2="145.6" stroke="#333" stroke-width="1.1"/>
<text x="474.2" y="147.29999999999998" font-size="4.8" fill="#222" stroke="#222" stroke-width="0.03" text-anchor="end">100%</text>
<rect x="481.9" y="145.6" width="11.1" height="29.88" fill="#5fa0dc"/>
<rect x="481.9" y="175.48" width="11.1" height="53.12" fill="#4b5166" stroke="#3a3f50" stroke-width="0.5"/>
<line x1="477" y1="228.6" x2="494.6" y2="228.6" stroke="#111" stroke-width="1.3"/>
<path d="M502.2,74.9 L504,74.9 L504,180.2 L502.2,180.2" stroke="#4a4a4a" stroke-width="1.2" fill="none"/>
<text x="0" y="0" font-size="5.7" fill="#333" stroke="#333" stroke-width="0.1" textLength="14.6" lengthAdjust="spacingAndGlyphs" transform="translate(507.5,119.8) rotate(90)"><tspan font-style="italic">P</tspan> = .05</text>
<rect x="466.3" y="236.2" width="2.6" height="2.6" fill="#5fa0dc"/>
<rect x="466.3" y="245" width="2.6" height="2.6" fill="#4b5166"/>
<text x="473.1" y="239.2" font-size="5" fill="#222" stroke="#222" stroke-width="0.03">homogeneous</text>
<text x="473.1" y="247.9" font-size="5" fill="#222" stroke="#222" stroke-width="0.03">heterogeneous</text>
<rect x="0.5" y="0.5" width="519" height="255" fill="none" stroke="#000" stroke-width="1.2"/>
</svg>
</body></html>
